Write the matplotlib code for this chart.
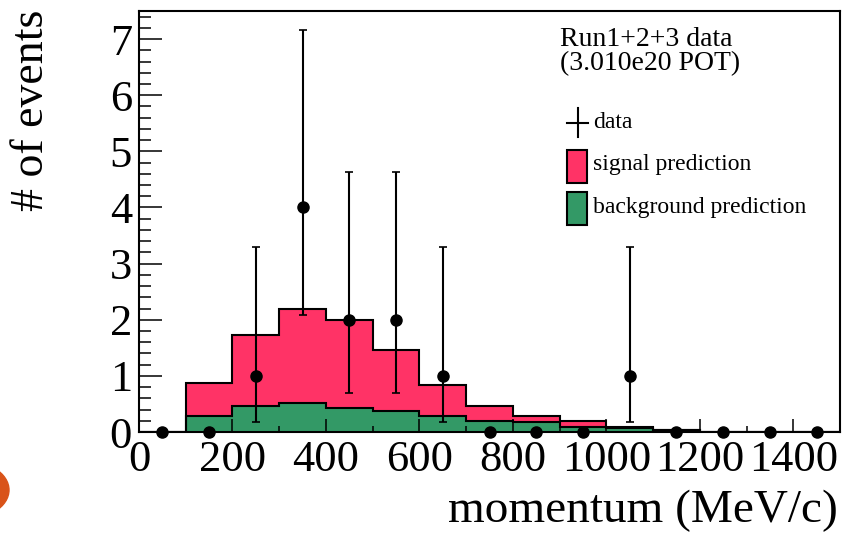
import numpy as np
import matplotlib
matplotlib.use("Agg")
import matplotlib.pyplot as plt
from matplotlib.lines import Line2D
from matplotlib.patches import Circle, Rectangle
from matplotlib.ticker import MultipleLocator

# momentum bins (MeV/c)
EDGES = [0, 100, 200, 300, 400, 500, 600, 700, 800, 900, 1000, 1100, 1200, 1300, 1400, 1500]
# stacked prediction: background and signal+background per bin
BACKGROUND = [0.0, 0.29, 0.47, 0.52, 0.43, 0.38, 0.28, 0.19, 0.17, 0.09, 0.08, 0.03, 0.0, 0.0, 0.0]
TOTAL = [0.0, 0.88, 1.72, 2.20, 2.00, 1.46, 0.84, 0.47, 0.28, 0.19, 0.09, 0.03, 0.0, 0.0, 0.0]

# observed events at bin centres, with the 68% interval ends
DATA_X = [50, 150, 250, 350, 450, 550, 650, 750, 850, 950, 1050, 1150, 1250, 1350, 1450]
DATA_N = [0, 0, 1, 4, 2, 2, 1, 0, 0, 0, 1, 0, 0, 0, 0]
DATA_LO = [0, 0, 0.17, 2.09, 0.69, 0.69, 0.17, 0, 0, 0, 0.17, 0, 0, 0, 0]
DATA_HI = [0, 0, 3.30, 7.16, 4.64, 4.64, 3.30, 0, 0, 0, 3.30, 0, 0, 0, 0]

TITLE_LINES = ["Run1+2+3 data", "(3.010e20 POT)"]
LEGEND_LABELS = ["data", "signal prediction", "background prediction"]

RED = "#ff3366"
GREEN = "#339966"

W, H = 843, 536


def px(x, y):
    # pixel position (from top-left) -> figure fraction
    return x / W, 1 - y / H


def main():
    plt.rcParams["font.family"] = ["Liberation Serif", "DejaVu Serif"]
    fig = plt.figure(figsize=(W / 100, H / 100), dpi=100)
    x0, y0 = px(139, 432)
    x1, y1 = px(840, 11)
    ax = fig.add_axes([x0, y0, x1 - x0, y1 - y0])

    # stacked histogram
    ax.stairs(TOTAL, EDGES, fill=True, color=RED, lw=0)
    ax.stairs(BACKGROUND, EDGES, fill=True, color=GREEN, lw=0)
    ax.stairs(TOTAL, EDGES, color="black", lw=1.5)
    ax.stairs(BACKGROUND, EDGES, color="black", lw=1.5)

    # data with asymmetric error bars (only non-empty bins)
    x = np.array(DATA_X)
    n = np.array(DATA_N, dtype=float)
    lo = np.array(DATA_LO)
    hi = np.array(DATA_HI)
    m = n > 0
    ax.errorbar(x[m], n[m], yerr=[n[m] - lo[m], hi[m] - n[m]], fmt="none",
                ecolor="black", elinewidth=1.5, capsize=3, capthick=1.2, zorder=4)
    ax.plot(x, n, "o", color="black", ms=8, clip_on=False, zorder=5)

    ax.set_xlim(0, 1500)
    ax.set_ylim(0, 7.5)
    ax.xaxis.set_major_locator(MultipleLocator(200))
    ax.xaxis.set_minor_locator(MultipleLocator(100))
    ax.yaxis.set_major_locator(MultipleLocator(1))
    ax.yaxis.set_minor_locator(MultipleLocator(0.2))
    ax.tick_params(which="both", direction="in", top=False, right=False, labelsize=32)
    ax.tick_params(axis="y", which="major", length=16.5, width=1.1, pad=5)
    ax.tick_params(axis="y", which="minor", length=8.5, width=1.1)
    ax.tick_params(axis="x", which="major", length=9.5, width=1.1, pad=6)
    ax.tick_params(axis="x", which="minor", length=4, width=1.1)
    for s in ax.spines.values():
        s.set_linewidth(1.5)

    # axis titles, ROOT style (top / right aligned)
    fig.text(*px(32, 10), "# of events", rotation=90, ha="center", va="top", fontsize=33)
    fig.text(*px(838, 532), "momentum (MeV/c)", ha="right", va="bottom", fontsize=34)

    # legend drawn by hand
    fig.text(*px(560, 39), TITLE_LINES[0], ha="left", va="center", fontsize=20)
    fig.text(*px(560, 64), TITLE_LINES[1], ha="left", va="center", fontsize=20)
    for (xa, ya), (xb, yb) in [((567, 123), (588, 123)), ((577.5, 108), (577.5, 137))]:
        fa, ga = px(xa, ya)
        fb, gb = px(xb, yb)
        fig.add_artist(Line2D([fa, fb], [ga, gb], color="black", lw=1.5))
    for ytop, col in [(150, RED), (192, GREEN)]:
        rx, ry = px(567, ytop + 33)
        fig.add_artist(Rectangle((rx, ry), 20 / W, 33 / H, facecolor=col,
                                 edgecolor="black", lw=1.5, transform=fig.transFigure))
    for label, yc in zip(LEGEND_LABELS, [123, 165, 207]):
        fig.text(*px(593, yc), label, ha="left", va="center", fontsize=17)

    # slide decoration: orange disc cut by the left edge
    fig.add_artist(Circle(px(-39, 490), 48 / W, color="#d95319",
                          transform=fig.transFigure))

    fig.savefig("out.png", dpi=100)
    plt.close(fig)


if __name__ == "__main__":
    main()
